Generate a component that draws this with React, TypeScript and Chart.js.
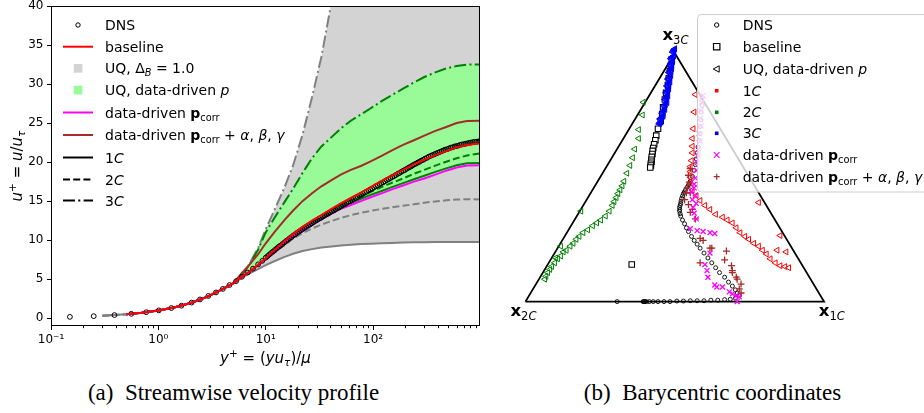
import React, { useEffect, useRef } from 'react';
import { Chart, registerables } from 'chart.js';

Chart.register(...registerables);

const FONT = '"DejaVu Sans", "Noto Sans", sans-serif';

// ================= Panel (a): streamwise velocity profile =================
const DNS_YPLUS = [0.15, 0.25, 0.39, 0.56, 0.77, 1.01, 1.32, 1.64, 2.04, 2.44, 2.92, 3.44, 3.98, 4.6, 5.3, 6.0, 6.8, 7.6, 8.5, 9.3,
  10, 10.4, 10.8, 11.2, 11.7, 12.2, 12.7, 13.2, 13.7, 14.3, 14.9, 15.5, 16.1, 16.7, 17.4, 18.1, 18.8, 19.6, 20.4, 21.2,
  22.0, 22.9, 23.8, 24.8, 25.8, 26.8, 27.9, 29.0, 30.2, 31.4, 32.6, 33.9, 35.3, 36.7, 38.2, 39.7, 41.3, 43.0, 44.7, 46.5,
  48.3, 50.3, 52.3, 54.4, 56.5, 58.8, 61.1, 63.6, 66.1, 68.8, 71.5, 74.4, 77.4, 80.5, 83.7, 87.0, 90.5, 94.1, 97.9, 102,
  106, 110, 115, 119, 124, 129, 134, 139, 145, 151, 157, 163, 170, 176, 183, 191, 198, 206, 215, 223,
  232, 241, 251, 261, 271, 282, 294, 305, 318, 330, 344, 357, 372, 386, 402, 418, 435, 452, 470, 489,
  508, 529, 550, 572, 595, 618, 643, 669, 696, 724, 753, 783, 814, 847, 881, 916, 953, 985];
const DNS_UPLUS = [0.17, 0.26, 0.40, 0.56, 0.77, 1.0, 1.3, 1.6, 2.0, 2.4, 2.85, 3.3, 3.75, 4.25, 4.75, 5.3, 5.85, 6.35, 6.9, 7.35,
  7.75, 7.95, 8.15, 8.35, 8.55, 8.75, 8.95, 9.15, 9.3, 9.5, 9.7, 9.9, 10.05, 10.25, 10.4, 10.6, 10.75, 10.95, 11.1, 11.25,
  11.4, 11.55, 11.7, 11.85, 12.0, 12.15, 12.3, 12.45, 12.6, 12.75, 12.85, 13.0, 13.15, 13.3, 13.4, 13.55, 13.7, 13.8, 13.95, 14.1,
  14.2, 14.35, 14.5, 14.6, 14.75, 14.9, 15.0, 15.15, 15.3, 15.4, 15.55, 15.7, 15.8, 15.95, 16.1, 16.2, 16.35, 16.5, 16.6, 16.75,
  16.9, 17.0, 17.15, 17.3, 17.4, 17.55, 17.7, 17.8, 17.95, 18.1, 18.2, 18.35, 18.5, 18.6, 18.75, 18.9, 19.0, 19.15, 19.3, 19.4,
  19.55, 19.7, 19.8, 19.95, 20.05, 20.2, 20.3, 20.45, 20.55, 20.7, 20.8, 20.9, 21.0, 21.1, 21.2, 21.3, 21.4, 21.5, 21.6, 21.65,
  21.75, 21.85, 21.9, 22.0, 22.05, 22.1, 22.2, 22.25, 22.3, 22.35, 22.4, 22.45, 22.5, 22.55, 22.6, 22.6, 22.65, 22.65];

const YPLUS_GRID = [0.3, 0.5, 0.7, 1, 1.4, 2, 2.8, 4, 5, 6, 7, 8.5, 10, 12, 15, 18, 22, 27, 33, 41, 50, 62, 77, 95, 120, 150, 190, 240, 300, 380, 480, 600, 750, 990];
const U_BASELINE = [null, 0.5, 0.7, 1.0, 1.38, 1.95, 2.7, 3.75, 4.5, 5.3, 5.95, 6.85, 7.7, 8.7, 9.9, 10.8, 11.7, 12.5, 13.2, 14.0, 14.7, 15.4, 16.1, 16.8, 17.6, 18.3, 19.0, 19.7, 20.3, 20.9, 21.4, 21.9, 22.2, 22.4];
const U_PCORR = [null, 0.5, 0.7, 1.0, 1.38, 1.95, 2.7, 3.75, 4.5, 5.3, 5.9, 6.8, 7.6, 8.5, 9.6, 10.5, 11.3, 12.0, 12.7, 13.4, 14.0, 14.5, 15.0, 15.5, 16.0, 16.5, 17.0, 17.5, 17.9, 18.4, 18.9, 19.3, 19.55, 19.6];
const U_PCORR_ABG = [null, 0.5, 0.7, 1.0, 1.38, 1.95, 2.7, 3.75, 4.5, 5.8, 6.8, 8.2, 9.6, 11.0, 12.6, 13.8, 15.0, 16.0, 16.9, 17.7, 18.4, 19.0, 19.5, 20.1, 20.8, 21.5, 22.2, 22.8, 23.4, 24.0, 24.5, 25.0, 25.25, 25.3];
const U_DD_1C = [null, 0.5, 0.7, 1.0, 1.38, 1.95, 2.7, 3.75, 4.5, 5.3, 5.9, 6.8, 7.65, 8.6, 9.7, 10.6, 11.45, 12.2, 12.9, 13.6, 14.2, 14.75, 15.3, 15.8, 16.3, 16.8, 17.3, 17.8, 18.25, 18.75, 19.2, 19.6, 19.85, 19.9];
const U_DD_2C = [null, 0.5, 0.7, 1.0, 1.38, 1.95, 2.7, 3.75, 4.5, 5.3, 5.95, 6.85, 7.7, 8.65, 9.8, 10.7, 11.6, 12.4, 13.1, 13.85, 14.5, 15.1, 15.65, 16.2, 16.8, 17.35, 17.9, 18.5, 19.0, 19.55, 20.05, 20.5, 20.85, 21.1];
const U_DD_3C = [null, 0.5, 0.7, 1.0, 1.38, 1.95, 2.7, 3.75, 4.5, 5.6, 6.8, 8.8, 11.0, 12.8, 14.9, 16.6, 18.6, 20.5, 22.0, 23.2, 24.3, 25.3, 26.1, 26.9, 27.8, 28.6, 29.4, 30.2, 30.9, 31.5, 32.0, 32.3, 32.5, 32.5];
const U_DB_1C = [0.3, 0.5, 0.7, 1.0, 1.38, 1.95, 2.7, 3.75, 4.5, 5.2, 5.7, 6.3, 6.8, 7.3, 7.85, 8.25, 8.6, 8.85, 9.05, 9.2, 9.3, 9.4, 9.5, 9.55, 9.6, 9.65, 9.7, 9.72, 9.74, 9.75, 9.76, 9.76, 9.76, 9.75];
const U_DB_2C = [0.3, 0.5, 0.7, 1.0, 1.38, 1.95, 2.7, 3.75, 4.5, 5.3, 5.9, 6.8, 7.6, 8.4, 9.4, 10.2, 10.9, 11.5, 12.0, 12.45, 12.85, 13.2, 13.5, 13.75, 14.0, 14.2, 14.4, 14.6, 14.8, 14.95, 15.1, 15.2, 15.25, 15.2];
const U_DB_3C = [0.3, 0.5, 0.7, 1.0, 1.38, 1.95, 2.7, 3.75, 4.5, 5.6, 6.9, 9.0, 11.4, 13.8, 16.8, 19.6, 23.5, 28.3, 33.5, 40.5, 48, 58, 70, 84, 100, 118, 140, 165, 190, 220, 250, 280, 310, 350];

const X_TICK_VALUES = [0.1, 1, 10, 100];
const X_TICK_LABELS = ['10\u207B\u00B9', '10\u2070', '10\u00B9', '10\u00B2'];
const X_MINOR_TICKS = [0.2, 0.3, 0.4, 0.5, 0.6, 0.7, 0.8, 0.9, 2, 3, 4, 5, 6, 7, 8, 9, 20, 30, 40, 50, 60, 70, 80, 90, 200, 300, 400, 500, 600, 700, 800, 900];
const Y_TICK_VALUES = [0, 5, 10, 15, 20, 25, 30, 35, 40];

// ================= Panel (b): barycentric coordinates =================
const TRI_X = [0, 1, 0.5, 0];
const TRI_Y = [0, 0, 0.866, 0];

const DNS_B_X = [0.592, 0.592, 0.588, 0.588, 0.585, 0.585, 0.582, 0.578, 0.575, 0.572, 0.569, 0.565, 0.559, 0.552, 0.549, 0.546, 0.541, 0.536, 0.532, 0.529, 0.526, 0.523, 0.521, 0.520, 0.518, 0.516, 0.517, 0.516, 0.518, 0.520, 0.526, 0.533, 0.539, 0.546, 0.556, 0.565, 0.575, 0.585, 0.598, 0.611, 0.624, 0.637, 0.650, 0.667, 0.680, 0.693, 0.703, 0.709, 0.716, 0.703, 0.686, 0.667, 0.644, 0.621, 0.598, 0.575, 0.552, 0.529, 0.507, 0.484, 0.464, 0.444, 0.428, 0.415, 0.405, 0.400, 0.397, 0.394, 0.307];
const DNS_B_Y = [0.710, 0.683, 0.660, 0.633, 0.609, 0.585, 0.562, 0.538, 0.518, 0.497, 0.477, 0.457, 0.436, 0.419, 0.412, 0.406, 0.398, 0.389, 0.382, 0.376, 0.368, 0.359, 0.350, 0.342, 0.335, 0.328, 0.321, 0.315, 0.306, 0.298, 0.284, 0.271, 0.257, 0.244, 0.227, 0.213, 0.200, 0.186, 0.169, 0.152, 0.135, 0.118, 0.101, 0.085, 0.068, 0.054, 0.041, 0.030, 0.020, 0.012, 0.008, 0.007, 0.005, 0.005, 0.003, 0.003, 0.003, 0.002, 0.002, 0.0, 0.0, 0.0, 0.0, 0.0, 0.0, 0.0, 0.0, 0.0, 0.0];

const BASE_B_X = [0.490, 0.487, 0.484, 0.480, 0.477, 0.471, 0.467, 0.461, 0.458, 0.453, 0.444, 0.438, 0.435, 0.431, 0.428, 0.426, 0.425, 0.423, 0.422, 0.422, 0.420, 0.420, 0.418, 0.356];
const BASE_B_Y = [0.842, 0.822, 0.802, 0.778, 0.754, 0.727, 0.704, 0.677, 0.653, 0.629, 0.602, 0.578, 0.562, 0.548, 0.535, 0.525, 0.514, 0.504, 0.494, 0.487, 0.480, 0.474, 0.467, 0.129];

const UQ_3C_X = [0.500, 0.496, 0.493, 0.497, 0.490, 0.487, 0.493, 0.488, 0.484, 0.490, 0.485, 0.480, 0.487, 0.482, 0.477, 0.484, 0.479, 0.474, 0.480, 0.476, 0.471, 0.477, 0.472, 0.467, 0.474, 0.469, 0.464, 0.467, 0.462, 0.458, 0.461, 0.456, 0.451, 0.454, 0.450, 0.448];
const UQ_3C_Y = [0.880, 0.875, 0.869, 0.856, 0.851, 0.846, 0.836, 0.829, 0.822, 0.812, 0.805, 0.798, 0.788, 0.781, 0.775, 0.765, 0.758, 0.751, 0.741, 0.734, 0.727, 0.717, 0.710, 0.704, 0.694, 0.687, 0.680, 0.670, 0.663, 0.656, 0.646, 0.641, 0.636, 0.626, 0.622, 0.619];

const UQ_2C_X = [0.395, 0.392, 0.379, 0.379, 0.366, 0.359, 0.350, 0.340, 0.330, 0.324, 0.317, 0.310, 0.304, 0.297, 0.291, 0.281, 0.268, 0.252, 0.239, 0.225, 0.209, 0.193, 0.180, 0.170, 0.160, 0.150, 0.137, 0.127, 0.118, 0.108, 0.098, 0.088, 0.082, 0.075, 0.069, 0.065, 0.186, 0.118, 0.101];
const UQ_2C_Y = [0.694, 0.650, 0.599, 0.568, 0.531, 0.501, 0.474, 0.447, 0.419, 0.403, 0.389, 0.376, 0.362, 0.348, 0.335, 0.315, 0.298, 0.284, 0.274, 0.264, 0.250, 0.240, 0.227, 0.217, 0.203, 0.193, 0.179, 0.173, 0.159, 0.149, 0.135, 0.122, 0.112, 0.101, 0.088, 0.078, 0.315, 0.193, 0.152];

const UQ_1C_X = [0.569, 0.565, 0.562, 0.559, 0.559, 0.559, 0.556, 0.552, 0.552, 0.552, 0.552, 0.559, 0.572, 0.585, 0.601, 0.618, 0.637, 0.660, 0.676, 0.693, 0.706, 0.719, 0.735, 0.748, 0.765, 0.781, 0.794, 0.807, 0.820, 0.837, 0.853, 0.869, 0.882, 0.781, 0.853, 0.843, 0.873];
const UQ_1C_Y = [0.721, 0.660, 0.602, 0.568, 0.541, 0.518, 0.491, 0.470, 0.453, 0.433, 0.413, 0.389, 0.369, 0.352, 0.335, 0.321, 0.304, 0.294, 0.284, 0.274, 0.257, 0.240, 0.227, 0.217, 0.203, 0.193, 0.179, 0.166, 0.149, 0.135, 0.125, 0.122, 0.118, 0.345, 0.230, 0.179, 0.173];

const PCORR_B_X = [0.595, 0.590, 0.588, 0.585, 0.588, 0.582, 0.585, 0.580, 0.578, 0.575, 0.572, 0.569, 0.565, 0.565, 0.556, 0.569, 0.559, 0.572, 0.562, 0.565, 0.572, 0.552, 0.575, 0.595, 0.618, 0.634, 0.618, 0.601, 0.608, 0.611, 0.634, 0.641, 0.660, 0.683, 0.693, 0.706, 0.709, 0.716];
const PCORR_B_Y = [0.717, 0.694, 0.666, 0.639, 0.612, 0.585, 0.558, 0.531, 0.507, 0.484, 0.457, 0.430, 0.409, 0.396, 0.382, 0.369, 0.355, 0.342, 0.328, 0.308, 0.288, 0.254, 0.247, 0.244, 0.240, 0.237, 0.169, 0.129, 0.108, 0.085, 0.058, 0.051, 0.051, 0.034, 0.027, 0.020, 0.000, 0.017];

const PCORR_ABG_B_X = [0.552, 0.546, 0.549, 0.542, 0.552, 0.539, 0.533, 0.546, 0.559, 0.552, 0.569, 0.585, 0.595, 0.618, 0.624, 0.585, 0.667, 0.673, 0.690, 0.693, 0.693, 0.706, 0.709, 0.722, 0.716, 0.722];
const PCORR_ABG_B_Y = [0.463, 0.440, 0.416, 0.396, 0.379, 0.379, 0.355, 0.338, 0.321, 0.311, 0.288, 0.220, 0.213, 0.186, 0.186, 0.135, 0.145, 0.176, 0.125, 0.108, 0.101, 0.085, 0.078, 0.061, 0.044, 0.030];

// ================= helpers =================
type Seg = { t: string; it?: boolean; bf?: boolean; sub?: boolean; sup?: boolean };

function segFont(s: Seg, size: number) {
  const sz = s.sub || s.sup ? size * 0.7 : size;
  return `${s.it ? 'italic ' : ''}${s.bf ? 'bold ' : ''}${sz}px ${FONT}`;
}
function richWidth(ctx: CanvasRenderingContext2D, segs: Seg[], size: number) {
  let w = 0;
  for (const s of segs) {
    ctx.font = segFont(s, size);
    w += ctx.measureText(s.t).width;
  }
  return w;
}
function drawRich(ctx: CanvasRenderingContext2D, segs: Seg[], x: number, baseline: number, size: number, align: 'left' | 'center' = 'left', color = '#000') {
  let cx = align === 'center' ? x - richWidth(ctx, segs, size) / 2 : x;
  ctx.fillStyle = color;
  ctx.textAlign = 'left';
  ctx.textBaseline = 'alphabetic';
  for (const s of segs) {
    ctx.font = segFont(s, size);
    const dy = s.sub ? size * 0.22 : s.sup ? -size * 0.4 : 0;
    ctx.fillText(s.t, cx, baseline + dy);
    cx += ctx.measureText(s.t).width;
  }
}

function pts(xs: number[], ys: (number | null)[]) {
  return xs.map((x, i) => ({ x, y: ys[i] }));
}

const DASHED = [7, 3.2];
const DASHDOT = [12, 3.3, 2, 3.3];

const PCORR_SEGS: Seg[] = [{ t: 'data-driven ' }, { t: 'p', bf: true }, { t: 'corr', sub: true }];
const PCORR_ABG_SEGS: Seg[] = [...PCORR_SEGS, { t: ' + ' }, { t: '\u03B1', it: true }, { t: ', ' }, { t: '\u03B2', it: true }, { t: ', ' }, { t: '\u03B3', it: true }];

const LEGEND_A = [
  { kind: 'circle', color: '#000', segs: [{ t: 'DNS' }] as Seg[] },
  { kind: 'line', color: '#ff0000', segs: [{ t: 'baseline' }] as Seg[] },
  { kind: 'patch', color: '#d3d3d3', segs: [{ t: 'UQ, \u0394' }, { t: 'B', it: true, sub: true }, { t: ' = 1.0' }] as Seg[] },
  { kind: 'patch', color: '#98fb98', segs: [{ t: 'UQ, data-driven ' }, { t: 'p', it: true }] as Seg[] },
  { kind: 'line', color: '#ff00ff', segs: PCORR_SEGS },
  { kind: 'line', color: '#a52a2a', segs: PCORR_ABG_SEGS },
  { kind: 'line', color: '#000', segs: [{ t: '1' }, { t: 'C', it: true }] as Seg[] },
  { kind: 'line', color: '#000', dash: DASHED, segs: [{ t: '2' }, { t: 'C', it: true }] as Seg[] },
  { kind: 'line', color: '#000', dash: DASHDOT, segs: [{ t: '3' }, { t: 'C', it: true }] as Seg[] },
];
const LEGEND_A_ROWS = [25, 46.7, 68.3, 90, 112.5, 135, 157.5, 179.5, 200.5];

const LEGEND_B = [
  { kind: 'circle', color: '#000', segs: [{ t: 'DNS' }] as Seg[] },
  { kind: 'square', color: '#000', segs: [{ t: 'baseline' }] as Seg[] },
  { kind: 'tri', color: '#000', segs: [{ t: 'UQ, data-driven ' }, { t: 'p', it: true }] as Seg[] },
  { kind: 'dot', color: '#ff0000', segs: [{ t: '1' }, { t: 'C', it: true }] as Seg[] },
  { kind: 'dot', color: '#008000', segs: [{ t: '2' }, { t: 'C', it: true }] as Seg[] },
  { kind: 'dot', color: '#0000ff', segs: [{ t: '3' }, { t: 'C', it: true }] as Seg[] },
  { kind: 'x', color: '#ff00ff', segs: PCORR_SEGS },
  { kind: 'plus', color: '#a52a2a', segs: PCORR_ABG_SEGS },
];
const LEGEND_B_ROWS = [25, 46.7, 69, 90.7, 112.3, 133.3, 155, 176.7];

function drawMarker(ctx: CanvasRenderingContext2D, kind: string, x: number, y: number, color: string) {
  ctx.save();
  ctx.strokeStyle = color;
  ctx.fillStyle = color;
  ctx.lineWidth = 1;
  ctx.setLineDash([]);
  ctx.beginPath();
  if (kind === 'circle') {
    ctx.arc(x, y, 2.2, 0, Math.PI * 2);
    ctx.stroke();
  } else if (kind === 'square') {
    ctx.lineWidth = 1.2;
    ctx.rect(x - 3.2, y - 3.2, 6.4, 6.4);
    ctx.stroke();
  } else if (kind === 'tri') {
    ctx.moveTo(x - 3.5, y);
    ctx.lineTo(x + 2.5, y - 3.2);
    ctx.lineTo(x + 2.5, y + 3.2);
    ctx.closePath();
    ctx.stroke();
  } else if (kind === 'dot') {
    ctx.fillRect(x - 1.8, y - 1.8, 3.6, 3.6);
  } else if (kind === 'x') {
    ctx.lineWidth = 1.2;
    ctx.moveTo(x - 2.8, y - 2.8); ctx.lineTo(x + 2.8, y + 2.8);
    ctx.moveTo(x - 2.8, y + 2.8); ctx.lineTo(x + 2.8, y - 2.8);
    ctx.stroke();
  } else if (kind === 'plus') {
    ctx.lineWidth = 1.2;
    ctx.moveTo(x - 3, y); ctx.lineTo(x + 3, y);
    ctx.moveTo(x, y - 3); ctx.lineTo(x, y + 3);
    ctx.stroke();
  }
  ctx.restore();
}

const X_TITLE: Seg[] = [{ t: 'y', it: true }, { t: '+', sup: true }, { t: ' = (' }, { t: 'yu', it: true }, { t: '\u03C4', it: true, sub: true }, { t: ')/' }, { t: '\u03BC', it: true }];
const Y_TITLE: Seg[] = [{ t: 'u', it: true }, { t: '+', sup: true }, { t: ' = ' }, { t: 'u', it: true }, { t: '/' }, { t: 'u', it: true }, { t: '\u03C4', it: true, sub: true }];

const panelAPlugin = {
  id: 'panelA',
  afterDraw(chart: any) {
    const { ctx, chartArea: ca, scales } = chart;
    const xs = scales.x;
    ctx.save();
    ctx.strokeStyle = '#000';
    ctx.lineWidth = 1;
    ctx.setLineDash([]);
    ctx.strokeRect(ca.left + 0.5, ca.top + 0.5, ca.right - ca.left - 1, ca.bottom - ca.top - 1);
    ctx.beginPath();
    for (const v of X_MINOR_TICKS) {
      const px = Math.round(xs.getPixelForValue(v)) + 0.5;
      ctx.moveTo(px, ca.bottom);
      ctx.lineTo(px, ca.bottom + 2.2);
    }
    ctx.stroke();
    drawRich(ctx, X_TITLE, (ca.left + ca.right) / 2, 363, 15, 'center');
    ctx.save();
    ctx.translate(21.5, (ca.top + ca.bottom) / 2);
    ctx.rotate(-Math.PI / 2);
    drawRich(ctx, Y_TITLE, 0, 0, 15, 'center');
    ctx.restore();
    LEGEND_A.forEach((e: any, i: number) => {
      const y = LEGEND_A_ROWS[i];
      if (e.kind === 'circle') {
        drawMarker(ctx, 'circle', 78, y, e.color);
      } else if (e.kind === 'patch') {
        ctx.fillStyle = e.color;
        ctx.fillRect(73.7, y - 4.3, 8.7, 8.7);
      } else {
        ctx.save();
        ctx.strokeStyle = e.color;
        ctx.lineWidth = 2;
        ctx.setLineDash(e.dash || []);
        ctx.beginPath();
        ctx.moveTo(63, y);
        ctx.lineTo(93, y);
        ctx.stroke();
        ctx.restore();
      }
      drawRich(ctx, e.segs, 105, y + 5.1, 14);
    });
    ctx.restore();
  },
};

const VERTEX_LABELS = [
  { x: 0.5, y: 0.866, sub: '3', dx: -12.3, dy: -13 },
  { x: 0, y: 0, sub: '2', dx: -15, dy: 14.3 },
  { x: 1, y: 0, sub: '1', dx: -5.3, dy: 14.3 },
];

const panelBPlugin = {
  id: 'panelB',
  afterDraw(chart: any) {
    const { ctx, scales } = chart;
    const xs = scales.x;
    const ys = scales.y;
    ctx.save();
    for (const v of VERTEX_LABELS) {
      const px = xs.getPixelForValue(v.x) + v.dx;
      const py = ys.getPixelForValue(v.y) + v.dy;
      drawRich(ctx, [{ t: 'x', bf: true }, { t: v.sub, sub: true }, { t: 'C', it: true, sub: true }], px, py, 16.5);
    }
    ctx.beginPath();
    ctx.roundRect(211.5, 14.5, 300, 177.5, 4);
    ctx.fillStyle = 'rgba(255,255,255,0.8)';
    ctx.fill();
    ctx.strokeStyle = '#cccccc';
    ctx.lineWidth = 1;
    ctx.stroke();
    LEGEND_B.forEach((e: any, i: number) => {
      const y = LEGEND_B_ROWS[i];
      drawMarker(ctx, e.kind, 230.7, y, e.color);
      drawRich(ctx, e.segs, 256.7, y + 5.1, 14);
    });
    ctx.restore();
  },
};

const A_W = 486;
const A_H = 372;
const B_W = 438;
const B_H = 372;

function lineDs(ys: (number | null)[], color: string, dash: number[] = [], extra: any = {}) {
  return {
    data: pts(YPLUS_GRID, ys),
    borderColor: color,
    backgroundColor: color,
    borderWidth: 2,
    borderDash: dash,
    pointRadius: 0,
    fill: false,
    tension: 0,
    ...extra,
  };
}

function makeConfigA(): any {
  const tickFont = { family: FONT, size: 12 };
  return {
    type: 'line',
    data: {
      datasets: [
        lineDs(U_BASELINE, '#ff0000'),
        {
          data: pts(DNS_YPLUS, DNS_UPLUS),
          showLine: false,
          pointRadius: 2.4,
          pointBorderWidth: 1,
          pointBorderColor: '#000',
          pointBackgroundColor: 'rgba(0,0,0,0)',
          borderColor: '#000',
          backgroundColor: 'rgba(0,0,0,0)',
          pointStyle: 'circle',
          fill: false,
        },
        lineDs(U_PCORR, '#ff00ff'),
        lineDs(U_PCORR_ABG, '#a52a2a'),
        lineDs(U_DD_1C, '#008000', [], { fill: 6, backgroundColor: '#98fb98' }),
        lineDs(U_DD_2C, '#008000', DASHED),
        lineDs(U_DD_3C, '#008000', DASHDOT),
        lineDs(U_DB_1C, '#808080', [], { fill: 9, backgroundColor: '#d3d3d3' }),
        lineDs(U_DB_2C, '#808080', DASHED),
        lineDs(U_DB_3C, '#808080', DASHDOT),
      ],
    },
    options: {
      animation: false,
      responsive: false,
      maintainAspectRatio: false,
      events: [],
      layout: { padding: { left: 0, right: A_W - 480, top: 6, bottom: 0 } },
      plugins: {
        legend: { display: false },
        tooltip: { enabled: false },
        filler: { drawTime: 'beforeDatasetsDraw', propagate: false },
      },
      scales: {
        x: {
          type: 'logarithmic',
          min: 0.1,
          max: 990,
          afterBuildTicks: (s: any) => {
            s.ticks = X_TICK_VALUES.map((v) => ({ value: v }));
          },
          afterFit: (s: any) => {
            s.height = A_H - 326;
            s.paddingLeft = 0;
            s.paddingRight = 0;
          },
          ticks: {
            callback: (_v: any, i: number) => X_TICK_LABELS[i],
            font: tickFont,
            color: '#000',
            maxRotation: 0,
            minRotation: 0,
            autoSkip: false,
            padding: 3,
          },
          grid: { display: true, drawOnChartArea: false, drawTicks: true, tickLength: 4, tickColor: '#000', color: '#000' },
          border: { display: false },
        },
        y: {
          type: 'linear',
          min: -1,
          max: 40,
          afterBuildTicks: (s: any) => {
            s.ticks = Y_TICK_VALUES.map((v) => ({ value: v }));
          },
          afterFit: (s: any) => {
            s.width = 51;
            s.paddingTop = 0;
            s.paddingBottom = 0;
          },
          ticks: { font: tickFont, color: '#000', padding: 3.5, callback: (v: any) => String(v) },
          grid: { display: true, drawOnChartArea: false, drawTicks: true, tickLength: 4, tickColor: '#000', color: '#000' },
          border: { display: false },
        },
      },
    },
    plugins: [panelAPlugin],
  };
}

function scatterDs(xs: number[], ys: number[], style: any) {
  return { data: pts(xs, ys), showLine: false, ...style };
}

function makeConfigB(): any {
  const tri = (color: string, bg: string, r = 3.4) => ({
    pointStyle: 'triangle',
    pointRotation: -90,
    pointRadius: r,
    pointBorderWidth: 1,
    pointBorderColor: color,
    pointBackgroundColor: bg,
    borderColor: color,
    backgroundColor: bg,
  });
  return {
    type: 'scatter',
    data: {
      datasets: [
        scatterDs(PCORR_B_X, PCORR_B_Y, { pointStyle: 'crossRot', pointRadius: 3.5, pointBorderWidth: 1.3, pointBorderColor: '#ff00ff', borderColor: '#ff00ff', backgroundColor: '#ff00ff' }),
        scatterDs(PCORR_ABG_B_X, PCORR_ABG_B_Y, { pointStyle: 'cross', pointRadius: 3.5, pointBorderWidth: 1.3, pointBorderColor: '#a52a2a', borderColor: '#a52a2a', backgroundColor: '#a52a2a' }),
        scatterDs(UQ_3C_X, UQ_3C_Y, tri('#0000ff', 'rgba(0,0,255,0.85)', 3.6)),
        scatterDs(UQ_1C_X, UQ_1C_Y, tri('#ff0000', 'rgba(255,255,255,0)')),
        scatterDs(UQ_2C_X, UQ_2C_Y, tri('#008000', 'rgba(255,255,255,0)')),
        scatterDs(BASE_B_X, BASE_B_Y, { pointStyle: 'rect', pointRadius: 3.9, pointBorderWidth: 1.1, pointBorderColor: '#000', pointBackgroundColor: '#fff', borderColor: '#000', backgroundColor: '#fff' }),
        scatterDs(DNS_B_X, DNS_B_Y, { pointStyle: 'circle', pointRadius: 2, pointBorderWidth: 0.9, pointBorderColor: '#000', pointBackgroundColor: 'rgba(0,0,0,0)', borderColor: '#000', backgroundColor: 'rgba(0,0,0,0)' }),
        { data: pts(TRI_X, TRI_Y), showLine: true, borderColor: '#000', borderWidth: 1.8, pointRadius: 0, fill: false, borderJoinStyle: 'miter' },
      ],
    },
    options: {
      animation: false,
      responsive: false,
      maintainAspectRatio: false,
      events: [],
      layout: { padding: 0 },
      plugins: { legend: { display: false }, tooltip: { enabled: false } },
      scales: {
        x: { type: 'linear', display: false, min: -0.11438, max: 1.31699 },
        y: { type: 'linear', display: false, min: -0.22666, max: 1.0318 },
      },
    },
    plugins: [panelBPlugin],
  };
}

const captionStyle = (cx: number): React.CSSProperties => ({
  position: 'absolute',
  left: cx - 220,
  width: 440,
  top: 381,
  textAlign: 'center',
  fontFamily: '"Liberation Serif", "Times New Roman", serif',
  fontSize: 23,
  lineHeight: '23px',
  whiteSpace: 'pre',
  color: '#000',
});

export default function App() {
  const aRef = useRef<HTMLCanvasElement>(null);
  const bRef = useRef<HTMLCanvasElement>(null);
  useEffect(() => {
    const ca = new Chart(aRef.current as HTMLCanvasElement, makeConfigA());
    const cb = new Chart(bRef.current as HTMLCanvasElement, makeConfigB());
    return () => {
      ca.destroy();
      cb.destroy();
    };
  }, []);
  return (
    <div style={{ position: 'fixed', left: 0, top: 0, width: 924, height: 413, background: '#fff', overflow: 'hidden' }}>
      <canvas ref={aRef} width={A_W} height={A_H} style={{ position: 'absolute', left: 0, top: 0, width: A_W, height: A_H }} />
      <canvas ref={bRef} width={B_W} height={B_H} style={{ position: 'absolute', left: A_W, top: 0, width: B_W, height: B_H }} />
      <div style={captionStyle(233.5)}>{'(a)\u2002Streamwise velocity profile'}</div>
      <div style={captionStyle(712.5)}>{'(b)\u2002Barycentric coordinates'}</div>
    </div>
  );
}
